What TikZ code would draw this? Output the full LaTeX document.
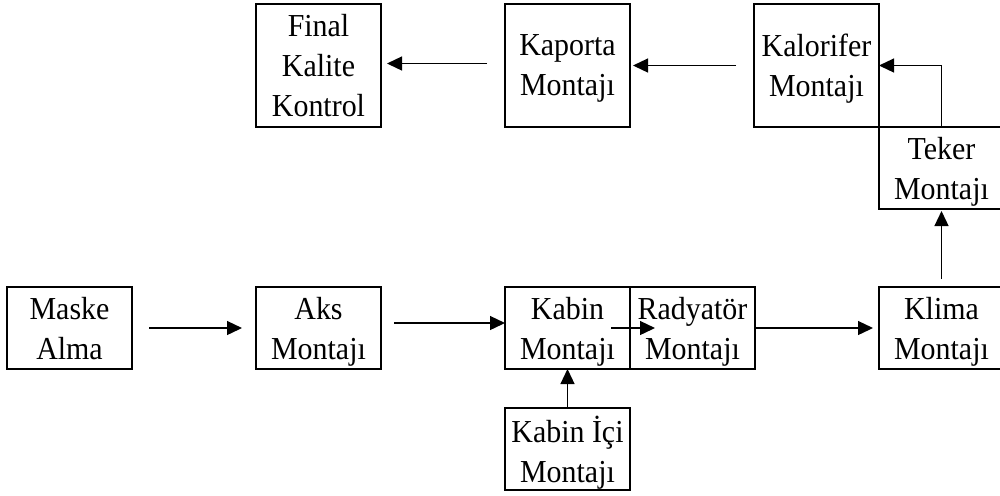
\documentclass[tikz,border=0pt]{standalone}
\usepackage{fontspec}
\setmainfont[FakeStretch=0.935]{Liberation Serif}
\usepackage{tikz}
\usetikzlibrary{arrows.meta, calc, positioning}

\begin{document}
\begin{tikzpicture}[
      node distance=62pt,
      box/.style={draw, line width=1pt, outer sep=0pt, inner sep=1pt, align=center,
        minimum width=62.5pt, minimum height=41pt, text depth=-1pt,
        font=\fontsize{16}{20}\selectfont},
      tallbox/.style={box, minimum height=61.5pt},
      arr/.style={-{Triangle[length=7.5pt,width=7pt]}, line width=0.65pt}
    ]

\useasboundingbox (0,0) rectangle (500pt,-247.5pt);

% Bottom chain
      \node[box, anchor=north west] (maske) at (3.5pt,-143.5pt) {Maske\\Alma};
      \node[box, right=of maske] (aks) {Aks\\Montajı};
      \node[box, right=of aks] (kabin) {Kabin\\Montajı};
      \node[box, right=0pt of kabin] (radyator) {Radyatör\\Montajı};
      \node[box, right=of radyator] (klima) {Klima\\Montajı};
      \node[box, below=19.5pt of kabin] (kabinici) {Kabin İçi\\Montajı};

% Up the right side
      \node[box, above=39pt of klima] (teker) {Teker\\Montajı};

% Top chain
      \node[tallbox, anchor=south east] (kalorifer) at (teker.north west) {Kalorifer\\Montajı};
      \node[tallbox, left=of kalorifer] (kaporta) {Kaporta\\Montajı};
      \node[tallbox, left=of kaporta] (final) {Final\\Kalite\\Kontrol};

% Arrows
      \draw[arr, shorten <=8.5pt, shorten >=7pt] (maske) -- (aks);
      \draw[arr, shorten <=6.5pt] ([yshift=2.5pt]aks.east) -- ([yshift=2.5pt]kabin.west);
      \draw[arr] ([xshift=-9.5pt]kabin.east) -- ([xshift=12.5pt]radyator.west);
      \draw[arr, shorten >=3pt] (radyator) -- (klima);
      \draw[arr] (kabinici) -- (kabin);

      \draw[arr, shorten <=4pt, shorten >=1pt] (klima) -- (teker);
      \draw[arr] (teker.north) |- (kalorifer.east);

      \draw[arr, shorten <=9pt, shorten >=1.5pt] (kalorifer) -- (kaporta);
      \draw[arr, shorten <=9pt, shorten >=3pt] ([yshift=1pt]kaporta.west) -- ([yshift=1pt]final.east);
    \end{tikzpicture}
\end{document}
